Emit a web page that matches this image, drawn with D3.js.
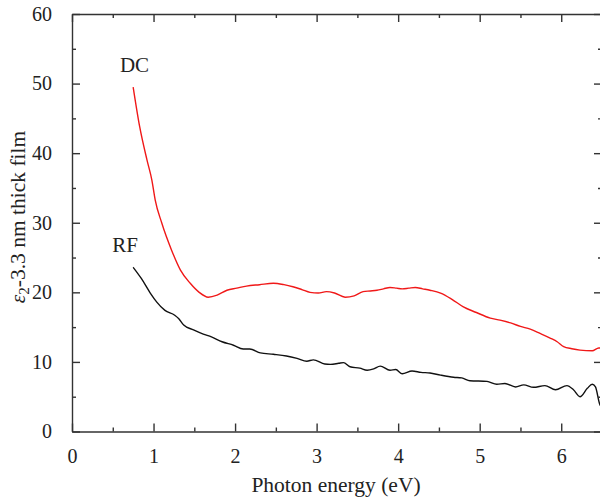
<!DOCTYPE html>
<html>
<head>
<meta charset="utf-8">
<script src="https://cdn.jsdelivr.net/npm/d3@7"></script>
<style>
  body { margin: 0; background: #fff; }
  text { font-family: "Liberation Serif", "DejaVu Serif", serif; fill: #222; }
</style>
</head>
<body>
<script>
// chart size
const width = 600, height = 498;
const margin = { top: 14, right: -2, bottom: 66.5, left: 72 };

// DC sputtered film (red) - photon energy (eV), eps2
const dcEnergy = [0.75, 0.83, 0.92, 0.98, 1.02, 1.1, 1.22, 1.33, 1.45, 1.56, 1.67, 1.78, 1.9, 2.02, 2.14, 2.3, 2.47, 2.6, 2.71, 2.82, 2.92, 3.02, 3.12, 3.22, 3.35, 3.46, 3.57, 3.66, 3.74, 3.82, 3.9, 3.98, 4.05, 4.13, 4.21, 4.3, 4.39, 4.52, 4.66, 4.8, 4.96, 5.13, 5.25, 5.38, 5.5, 5.62, 5.74, 5.87, 5.95, 6.03, 6.13, 6.23, 6.38, 6.46, 6.5];
const dcValues = [49.5, 43.8, 39.0, 36.1, 33.3, 30.0, 26.1, 23.2, 21.3, 20.0, 19.3, 19.6, 20.3, 20.6, 20.9, 21.1, 21.3, 21.1, 20.8, 20.4, 20.0, 19.9, 20.1, 19.9, 19.3, 19.5, 20.1, 20.2, 20.3, 20.5, 20.7, 20.6, 20.5, 20.6, 20.7, 20.5, 20.3, 19.9, 19.0, 17.9, 17.1, 16.3, 16.0, 15.6, 15.1, 14.7, 14.1, 13.4, 12.9, 12.2, 11.9, 11.7, 11.6, 12.0, 12.0];

// RF sputtered film (black)
const rfEnergy = [0.75, 0.85, 0.96, 1.04, 1.14, 1.26, 1.31, 1.37, 1.49, 1.61, 1.71, 1.84, 1.98, 2.1, 2.18, 2.31, 2.47, 2.63, 2.76, 2.88, 2.96, 3.1, 3.17, 3.27, 3.33, 3.41, 3.53, 3.62, 3.7, 3.78, 3.9, 3.97, 4.05, 4.17, 4.28, 4.39, 4.52, 4.68, 4.78, 4.88, 5.09, 5.21, 5.31, 5.44, 5.54, 5.66, 5.8, 5.93, 6.07, 6.15, 6.23, 6.32, 6.38, 6.42, 6.47, 6.5];
const rfValues = [23.6, 22.0, 19.9, 18.6, 17.4, 16.7, 16.2, 15.3, 14.6, 14.0, 13.6, 12.9, 12.4, 11.85, 11.85, 11.3, 11.1, 10.85, 10.5, 10.1, 10.3, 9.7, 9.65, 9.8, 9.9, 9.3, 9.1, 8.8, 9.0, 9.4, 8.8, 8.9, 8.3, 8.7, 8.5, 8.4, 8.1, 7.8, 7.7, 7.3, 7.2, 6.8, 6.9, 6.4, 6.7, 6.35, 6.6, 6.0, 6.6, 6.0, 5.0, 6.2, 6.8, 6.4, 4.0, 3.4];

const xTicks = [0, 1, 2, 3, 4, 5, 6];
const yTicks = [0, 10, 20, 30, 40, 50, 60];

const svg = d3.select("body").append("svg")
  .attr("width", width)
  .attr("height", height);

const x = d3.scaleLinear().domain([0, 6.5]).range([margin.left, width - margin.right]);
const y = d3.scaleLinear().domain([0, 60]).range([height - margin.bottom, margin.top]);

// clip lines to the plot
svg.append("clipPath").attr("id", "clip")
  .append("rect")
  .attr("x", margin.left).attr("y", margin.top)
  .attr("width", width - margin.right - margin.left)
  .attr("height", height - margin.bottom - margin.top);

const line = d3.line()
  .x(d => x(d[0]))
  .y(d => y(d[1]))
  .curve(d3.curveMonotoneX);

const series = [
  { e: dcEnergy, v: dcValues, color: "#f01818" },
  { e: rfEnergy, v: rfValues, color: "#111" }
];

series.forEach(s => {
  svg.append("path")
    .datum(s.e.map((e, i) => [e, s.v[i]]))
    .attr("clip-path", "url(#clip)")
    .attr("fill", "none")
    .attr("stroke", s.color)
    .attr("stroke-width", 1.4)
    .attr("d", line);
});

// axes, ticks pointing inward, minor ticks at half steps
const minorX = d3.range(0.5, 6.6, 1);
const minorY = d3.range(5, 60, 10);

function styleAxis(g) {
  g.selectAll("path, line").attr("stroke", "#333").attr("stroke-width", 1.4);
  g.selectAll("text").style("font-size", "20px").attr("fill", "#222");
}

// bottom
svg.append("g")
  .attr("transform", `translate(0,${y(0)})`)
  .call(d3.axisBottom(x).tickValues(xTicks).tickSizeInner(-8).tickSizeOuter(0).tickPadding(17).tickFormat(d3.format("d")))
  .call(styleAxis);
svg.append("g")
  .attr("transform", `translate(0,${y(0)})`)
  .call(d3.axisBottom(x).tickValues(minorX).tickSize(-4).tickFormat(""))
  .call(g => g.select(".domain").remove())
  .call(styleAxis);

// top
svg.append("g")
  .attr("transform", `translate(0,${y(60)})`)
  .call(d3.axisTop(x).tickValues(xTicks).tickSizeInner(-8).tickSizeOuter(0).tickFormat(""))
  .call(styleAxis);
svg.append("g")
  .attr("transform", `translate(0,${y(60)})`)
  .call(d3.axisTop(x).tickValues(minorX).tickSize(-4).tickFormat(""))
  .call(g => g.select(".domain").remove())
  .call(styleAxis);

// left
svg.append("g")
  .attr("transform", `translate(${x(0)},0)`)
  .call(d3.axisLeft(y).tickValues(yTicks).tickSizeInner(-8).tickSizeOuter(0).tickPadding(20).tickFormat(d3.format("d")))
  .call(styleAxis);
svg.append("g")
  .attr("transform", `translate(${x(0)},0)`)
  .call(d3.axisLeft(y).tickValues(minorY).tickSize(-4).tickFormat(""))
  .call(g => g.select(".domain").remove())
  .call(styleAxis);

// right
svg.append("g")
  .attr("transform", `translate(${x(6.5)},0)`)
  .call(d3.axisRight(y).tickValues(yTicks).tickSizeInner(-8).tickSizeOuter(0).tickFormat(""))
  .call(styleAxis);
svg.append("g")
  .attr("transform", `translate(${x(6.5)},0)`)
  .call(d3.axisRight(y).tickValues(minorY).tickSize(-4).tickFormat(""))
  .call(g => g.select(".domain").remove())
  .call(styleAxis);

// series labels
svg.append("text").attr("x", 134.5).attr("y", 72).attr("text-anchor", "middle")
  .style("font-size", "21px").text("DC");
svg.append("text").attr("x", 125).attr("y", 252).attr("text-anchor", "middle")
  .style("font-size", "21px").text("RF");

// axis titles
svg.append("text")
  .attr("x", 336).attr("y", 492).attr("text-anchor", "middle")
  .style("font-size", "21.5px")
  .text("Photon energy (eV)");

const yLabel = svg.append("text")
  .attr("transform", "translate(25,217) rotate(-90)")
  .attr("text-anchor", "middle")
  .style("font-size", "21.5px");
yLabel.append("tspan").style("font-style", "italic").text("ε");
yLabel.append("tspan").attr("dy", 4).style("font-size", "15px").text("2");
yLabel.append("tspan").attr("dy", -4).text("-3.3 nm thick film");
</script>
</body>
</html>
